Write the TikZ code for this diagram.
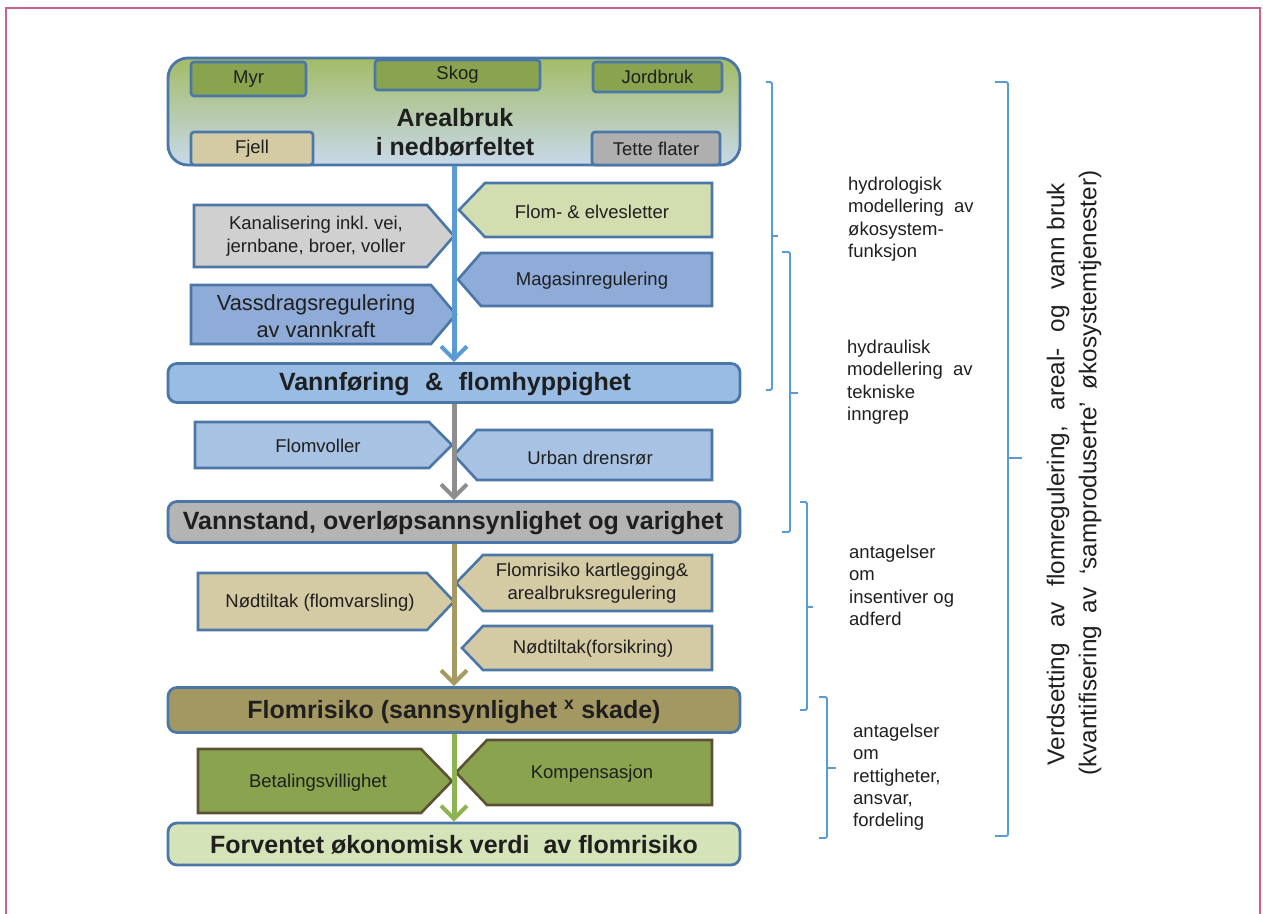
\documentclass[tikz,border=0pt]{standalone}
\usepackage{fontspec}
\setmainfont{Liberation Sans}
\usetikzlibrary{arrows.meta}
\frenchspacing
\definecolor{bordb}{HTML}{4A77A8}
\definecolor{txt}{HTML}{1F1F1F}
\definecolor{frame}{HTML}{C9628F}
\definecolor{brc}{HTML}{5B9BD5}
\definecolor{arG}{HTML}{A3BC66}
\definecolor{arM}{HTML}{B4C98F}
\definecolor{arB}{HTML}{C8D8EA}
\definecolor{cgreen}{HTML}{8AA34F}
\definecolor{ctan}{HTML}{D4CBA5}
\definecolor{cgray}{HTML}{AFAFAF}
\definecolor{ckan}{HTML}{D0D0D0}
\definecolor{cflom}{HTML}{D3DEB0}
\definecolor{cmag}{HTML}{8FABD8}
\definecolor{cvoll}{HTML}{A7C2E2}
\definecolor{cvannf}{HTML}{98BCE4}
\definecolor{cvannst}{HTML}{B4B4B4}
\definecolor{cflomr}{HTML}{A49862}
\definecolor{cforv}{HTML}{D4E3B8}
\definecolor{cdark}{HTML}{5C5135}
\definecolor{arblue}{HTML}{5B9BD5}
\definecolor{argray}{HTML}{8E8E8E}
\definecolor{artan}{HTML}{A49A62}
\definecolor{argreen}{HTML}{8DB352}
\newcommand{\fsz}[2]{\fontsize{#1}{#2}\selectfont}
\begin{document}
\begin{tikzpicture}[x=1pt,y=-1pt,
  box/.style={draw=bordb, line width=2.8pt, rounded corners=9pt, minimum width=572pt, inner sep=0pt},
  sbox/.style={draw=bordb, line width=2.6pt, rounded corners=3pt, inner sep=0pt, font=\fsz{18.5}{22}, text=txt},
  pent/.style={draw=bordb, line width=2.6pt, line join=miter},
  lbl/.style={font=\fsz{18.5}{22.5}, text=txt, align=center, inner sep=0pt},
  ttl/.style={font=\bfseries\fsz{25}{29}, text=txt, align=center, inner sep=0pt},
  brk/.style={draw=brc, line width=1.8pt, rounded corners=1.5pt},
  side/.style={font=\fsz{18.5}{22.3}, text=txt, align=left, anchor=north west, inner sep=0pt},
  flow/.style={line width=5pt, -{Straight Barb[length=13pt,width=26pt,line width=4pt]}},
  rot/.style={font=\fsz{24.3}{28}, text=txt, rotate=90, inner sep=0pt}
]
\useasboundingbox (0,0) rectangle (1263,913);
\draw[frame, line width=1.6pt] (6,930) -- (6,8) -- (1260,8) -- (1260,930);

% ---- main boxes
\node[box, rounded corners=20pt, minimum height=107pt, top color=arG, middle color=arM, bottom color=arB] (areal) at (454,111.5) {};
\node[sbox, fill=cgreen, minimum width=115pt, minimum height=34pt] (myr) at (248.5,79) {Myr};
\node[sbox, fill=cgreen, minimum width=165pt, minimum height=30pt] (skog) at (457.5,75) {Skog};
\node[sbox, fill=cgreen, minimum width=129pt, minimum height=30pt] (jord) at (657.5,77) {Jordbruk};
\node[sbox, fill=ctan, minimum width=122pt, minimum height=33pt] (fjell) at (252,148.5) {Fjell};
\node[sbox, fill=cgray, minimum width=128pt, minimum height=33pt] (tette) at (656,148.5) {Tette flater};
\node[ttl] (arealt) at (455,132) {Arealbruk\\i nedbørfeltet};

\node[box, fill=cvannf, minimum height=39pt] (vannf) at (454,383) {};
\node[ttl] (vannft) at (455,384) {\makebox[352pt][s]{Vannføring \& flomhyppighet}};
\node[box, fill=cvannst, minimum height=41pt] (vannst) at (454,522) {};
\node[ttl] (vannstt) at (453,523) {Vannstand, overløpsannsynlighet og varighet};
\node[box, fill=cflomr, minimum height=45pt] (flomr) at (454,710) {};
\node[ttl] (flomrt) at (454,712) {Flomrisiko (sannsynlighet \textsuperscript{x} skade)};
\node[box, fill=cforv, minimum height=42pt] (forv) at (454,844) {};
\node[ttl] (forvt) at (454,845) {Forventet økonomisk verdi\ \ av flomrisiko};

% ---- pentagons (right-pointing)
\draw[pent, fill=ckan] (194,205) -- (427,205) -- (454,236) -- (427,267) -- (194,267) -- cycle;
\node[lbl] (kan) at (316,236) {Kanalisering inkl. vei,\\jernbane, broer, voller};
\draw[pent, fill=cmag] (191,285) -- (431,285) -- (456,314.5) -- (431,344) -- (191,344) -- cycle;
\node[lbl, font=\fsz{21.8}{26.5}] (vass) at (316,316) {Vassdragsregulering\\av vannkraft};
\draw[pent, fill=cvoll] (195,422) -- (429,422) -- (452,445) -- (429,468) -- (195,468) -- cycle;
\node[lbl] (voll) at (318,446) {Flomvoller};
\draw[pent, fill=ctan] (198,573) -- (427,573) -- (454,601.5) -- (427,630) -- (198,630) -- cycle;
\node[lbl] (nodf) at (320,603) {Nødtiltak (flomvarsling)};
\draw[pent, draw=cdark, fill=cgreen] (198,749) -- (421,749) -- (452,781) -- (421,813) -- (198,813) -- cycle;
\node[lbl] (betal) at (318,783) {Betalingsvillighet};

% ---- pentagons (left-pointing)
\draw[pent, fill=cflom] (712,183) -- (485,183) -- (459,210) -- (485,237) -- (712,237) -- cycle;
\node[lbl] (flom) at (592,212) {Flom- \& elvesletter};
\draw[pent, fill=cmag] (712,253) -- (481,253) -- (458,279.5) -- (481,306) -- (712,306) -- cycle;
\node[lbl] (mag) at (592,281) {Magasinregulering};
\draw[pent, fill=cvoll] (712,430) -- (477,430) -- (454,455) -- (477,480) -- (712,480) -- cycle;
\node[lbl] (urban) at (590,458) {Urban drensrør};
\draw[pent, fill=ctan] (712,555) -- (483,555) -- (456,583) -- (483,611) -- (712,611) -- cycle;
\node[lbl] (kart) at (592,583) {Flomrisiko kartlegging\&\\arealbruksregulering};
\draw[pent, fill=ctan] (712,626) -- (483,626) -- (462,648) -- (483,670) -- (712,670) -- cycle;
\node[lbl] (nodfs) at (593,649) {Nødtiltak(forsikring)};
\draw[pent, draw=cdark, fill=cgreen] (712,740) -- (487,740) -- (456,772.5) -- (487,805) -- (712,805) -- cycle;
\node[lbl] (komp) at (592,774) {Kompensasjon};

% ---- flow arrows
\draw[flow, draw=arblue] (areal.south) -- (vannf.north);
\draw[flow, draw=argray] (vannf.south) -- (vannst.north);
\draw[flow, draw=artan] (vannst.south) -- (flomr.north);
\draw[flow, draw=argreen] (flomr.south) -- (forv.north);

% ---- brackets
\draw[brk] (766,82) -- (772,82) -- (772,390) -- (766,390);
\draw[brk] (772,236) -- (778,236);
\draw[brk] (782,252) -- (790,252) -- (790,532) -- (782,532);
\draw[brk] (790,393) -- (798,393);
\draw[brk] (800,502) -- (807,502) -- (807,710) -- (800,710);
\draw[brk] (807,607) -- (813,607);
\draw[brk] (819,697) -- (827,697) -- (827,838) -- (819,838);
\draw[brk] (827,768) -- (836,768);
\draw[brk] (995,82) -- (1008,82) -- (1008,836) -- (995,836);
\draw[brk] (1008,458) -- (1022,458);

% ---- side texts
\node[side] (s1) at (848,177) {hydrologisk\\modellering\ \ av\\økosystem-\\funksjon};
\node[side] (s2) at (847,340) {hydraulisk\\modellering\ \ av\\tekniske\\inngrep};
\node[side] (s3) at (849,545) {antagelser\\om\\insentiver og\\adferd};
\node[side] (s4) at (853,724) {antagelser\\om\\rettigheter,\\ansvar,\\fordeling};

\node[rot] (r1) at (1058,474) {\makebox[582pt][s]{Verdsetting av flomregulering, areal- og vann\hspace{0.28em}bruk}};
\node[rot] (r2) at (1090,473) {\makebox[605pt][s]{(kvantifisering av ‘samproduserte’ økosystemtjenester)}};
\end{tikzpicture}
\end{document}
